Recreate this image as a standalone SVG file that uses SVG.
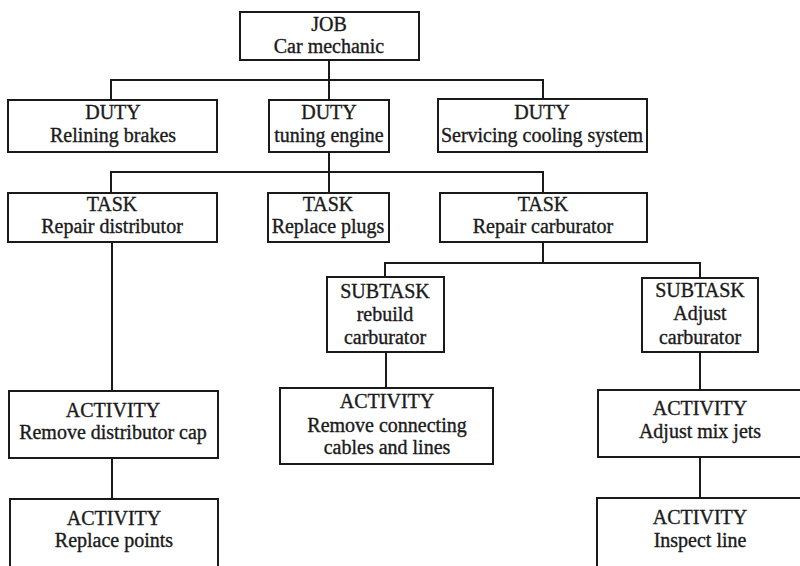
<svg xmlns="http://www.w3.org/2000/svg" width="800" height="566" viewBox="0 0 800 566">
<style>
.box{fill:#fff;stroke:#1a1a1a;stroke-width:2}
.ln{fill:none;stroke:#1a1a1a;stroke-width:2}
text{font-family:"Liberation Serif","DejaVu Serif",serif;font-size:20px;fill:#1a1a1a;stroke:#1a1a1a;stroke-width:0.35;text-anchor:middle}
</style>
<rect width="800" height="566" fill="#fff"/>
<g id="connectors">
<path class="ln" d="M329 60V100M111 100V80H543V100"/>
<path class="ln" d="M329 152V193M111 193V172H543V193"/>
<path class="ln" d="M543 242V263M385 277V263H700V278"/>
<path class="ln" d="M112 242V391M112 458V499"/>
<path class="ln" d="M386 352V388"/>
<path class="ln" d="M700 352V390M700 457V498"/>
</g>
<g id="job"><rect class="box" x="240" y="12" width="179" height="48"/><text x="329" y="31">JOB</text><text x="329" y="53">Car mechanic</text></g>
<g id="duty1"><rect class="box" x="8" y="100" width="209" height="52"/><text x="113" y="119">DUTY</text><text x="113" y="142">Relining brakes</text></g>
<g id="duty2"><rect class="box" x="269" y="100" width="120" height="52"/><text x="329" y="119">DUTY</text><text x="329" y="142">tuning engine</text></g>
<g id="duty3"><rect class="box" x="438" y="99" width="209" height="53"/><text x="542" y="119">DUTY</text><text x="542" y="142">Servicing cooling system</text></g>
<g id="task1"><rect class="box" x="8" y="193" width="209" height="49"/><text x="112" y="211">TASK</text><text x="112" y="233">Repair distributor</text></g>
<g id="task2"><rect class="box" x="268" y="193" width="121" height="49"/><text x="328" y="211">TASK</text><text x="328" y="233">Replace plugs</text></g>
<g id="task3"><rect class="box" x="440" y="193" width="207" height="49"/><text x="543" y="211">TASK</text><text x="543" y="233">Repair carburator</text></g>
<g id="subtask1"><rect class="box" x="327" y="277" width="117" height="75"/><text x="385" y="298">SUBTASK</text><text x="385" y="321">rebuild</text><text x="385" y="344">carburator</text></g>
<g id="subtask2"><rect class="box" x="642" y="278" width="116" height="74"/><text x="700" y="297">SUBTASK</text><text x="700" y="320">Adjust</text><text x="700" y="344">carburator</text></g>
<g id="act1"><rect class="box" x="9" y="391" width="209" height="67"/><text x="113" y="417">ACTIVITY</text><text x="113" y="439">Remove distributor cap</text></g>
<g id="act2"><rect class="box" x="280" y="388" width="213" height="76"/><text x="387" y="408">ACTIVITY</text><text x="387" y="432">Remove connecting</text><text x="387" y="454">cables and lines</text></g>
<g id="act3"><rect class="box" x="598" y="390" width="212" height="67"/><text x="700" y="415">ACTIVITY</text><text x="700" y="438">Adjust mix jets</text></g>
<g id="act4"><rect class="box" x="10" y="499" width="208" height="80"/><text x="114" y="525">ACTIVITY</text><text x="114" y="547">Replace points</text></g>
<g id="act5"><rect class="box" x="597" y="498" width="213" height="80"/><text x="700" y="524">ACTIVITY</text><text x="700" y="547">Inspect line</text></g>
</svg>
